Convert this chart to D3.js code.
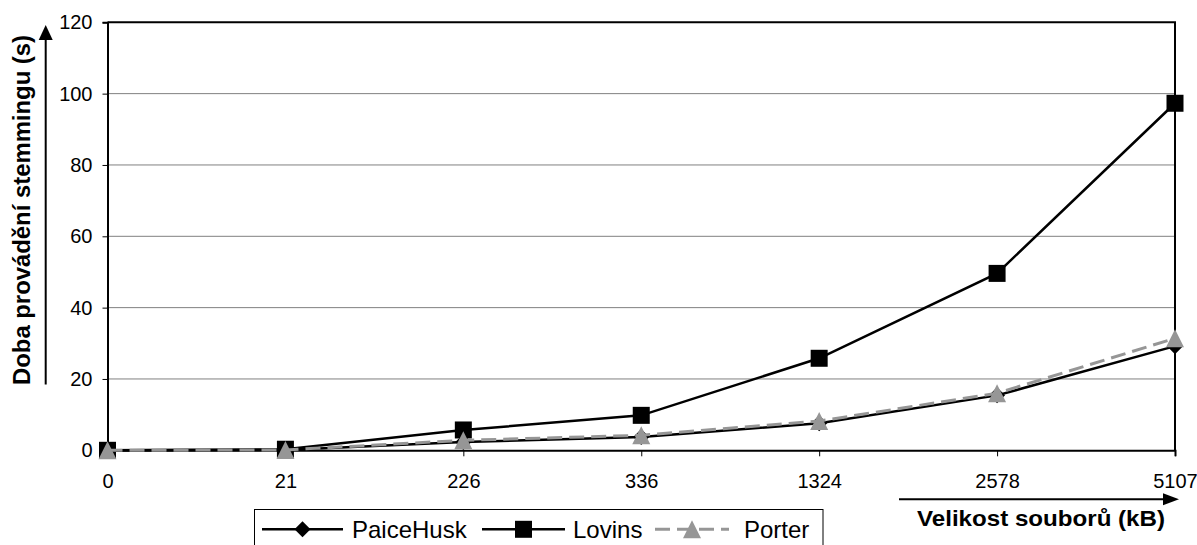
<!DOCTYPE html>
<html>
<head>
<meta charset="utf-8">
<script src="https://cdn.jsdelivr.net/npm/d3@7/dist/d3.min.js"></script>
<style>
  html, body { margin: 0; padding: 0; background: #fff; }
  svg { display: block; font-family: "Liberation Sans", Arial, sans-serif; }
</style>
</head>
<body>
<svg id="chart" width="1197" height="545"></svg>
<script>
// File sizes (kB) on the x axis
const categories = ["0", "21", "226", "336", "1324", "2578", "5107"];
// Stemming time (s) per algorithm
const paiceHusk = [0, 0.1, 2.3, 3.7, 7.6, 15.4, 29.2];
const lovins    = [0, 0.3, 5.7, 9.8, 25.8, 49.6, 97.3];
const porter    = [0, 0.1, 2.8, 4.2, 8.2, 16.0, 31.4];
const yTicks = [0, 20, 40, 60, 80, 100, 120];
const seriesNames = ["PaiceHusk", "Lovins", "Porter"];

const svg = d3.select("#chart");
const plotLeft = 107.5, plotRight = 1175, plotTop = 22.3, plotBottom = 450.3;

const x = d3.scalePoint().domain(categories).range([plotLeft, plotRight]);
const y = d3.scaleLinear().domain([0, 120]).range([plotBottom, plotTop]);

// gridlines
svg.append("g")
  .selectAll("line")
  .data(yTicks.filter(d => d > 0 && d < 120))
  .join("line")
  .attr("x1", plotLeft).attr("x2", plotRight)
  .attr("y1", d => y(d)).attr("y2", d => y(d))
  .attr("stroke", "#808080").attr("stroke-width", 1);

// frame: top and right edges
svg.append("path")
  .attr("d", `M${plotLeft},${y(120)}H${plotRight}V${plotBottom}`)
  .attr("fill", "none").attr("stroke", "#000").attr("stroke-width", 2);

// y axis
const yAxis = svg.append("g")
  .attr("transform", `translate(${plotLeft},0)`)
  .call(d3.axisLeft(y).tickValues(yTicks).tickSize(5).tickPadding(10));
yAxis.select(".domain").attr("stroke", "#000").attr("stroke-width", 2);
yAxis.selectAll(".tick line").attr("stroke", "#000").attr("stroke-width", 1);
yAxis.selectAll(".tick text")
  .attr("font-family", "Liberation Sans, Arial, sans-serif")
  .attr("font-size", 20).attr("fill", "#000");

// x axis
const xAxis = svg.append("g")
  .attr("transform", `translate(0,${plotBottom})`)
  .call(d3.axisBottom(x).tickSize(6).tickPadding(18));
xAxis.select(".domain").attr("stroke", "#000").attr("stroke-width", 2);
xAxis.selectAll(".tick line").attr("stroke", "#000").attr("stroke-width", 1);
xAxis.selectAll(".tick text")
  .attr("font-family", "Liberation Sans, Arial, sans-serif")
  .attr("font-size", 20).attr("fill", "#000");

// marker shapes
const markerPath = {
  diamond: s => `M0,${-s}L${s},0L0,${s}L${-s},0Z`,
  square: s => `M${-s},${-s}H${s}V${s}H${-s}Z`,
  triangle: s => `M0,${-s}L${s},${s}H${-s}Z`
};

const series = [
  { name: seriesNames[0], values: paiceHusk, color: "#000", width: 2.5, dash: null, marker: "diamond", size: 8, fill: "#000" },
  { name: seriesNames[1], values: lovins, color: "#000", width: 2.5, dash: null, marker: "square", size: 8.5, fill: "#000" },
  { name: seriesNames[2], values: porter, color: "#969696", width: 3, dash: "15,7", marker: "triangle", size: 9, fill: "#969696" }
];

const line = d3.line().x((d, i) => x(categories[i])).y(d => y(d));

series.forEach(s => {
  const g = svg.append("g");
  g.append("path")
    .attr("d", line(s.values))
    .attr("fill", "none")
    .attr("stroke", s.color)
    .attr("stroke-width", s.width)
    .attr("stroke-dasharray", s.dash);
  g.selectAll("path.m")
    .data(s.values)
    .join("path")
    .attr("class", "m")
    .attr("transform", (d, i) => `translate(${x(categories[i])},${y(d)})`)
    .attr("d", markerPath[s.marker](s.size))
    .attr("fill", s.fill);
});

// y axis title with arrow
svg.append("line")
  .attr("x1", 45.7).attr("x2", 45.7).attr("y1", 384.5).attr("y2", 38)
  .attr("stroke", "#000").attr("stroke-width", 2);
svg.append("path")
  .attr("d", "M45.7,25L52.7,40H38.7Z").attr("fill", "#000");
svg.append("text")
  .attr("transform", "translate(30,210) rotate(-90)")
  .attr("text-anchor", "middle")
  .attr("font-size", 23).attr("font-weight", "bold")
  .attr("textLength", 350).attr("lengthAdjust", "spacingAndGlyphs")
  .text("Doba provádění stemmingu (s)");

// x axis title with arrow
svg.append("line")
  .attr("x1", 899).attr("x2", 1165).attr("y1", 499.3).attr("y2", 499.3)
  .attr("stroke", "#000").attr("stroke-width", 2);
svg.append("path")
  .attr("d", "M1179,499.3L1163,493.3V505.3Z").attr("fill", "#000");
svg.append("text")
  .attr("x", 1041).attr("y", 525.5)
  .attr("text-anchor", "middle")
  .attr("font-size", 22).attr("font-weight", "bold")
  .attr("textLength", 248).attr("lengthAdjust", "spacingAndGlyphs")
  .text("Velikost souborů (kB)");

// legend
const legend = svg.append("g");
legend.append("rect")
  .attr("x", 254.5).attr("y", 509.5).attr("width", 568.5).attr("height", 60)
  .attr("fill", "#fff").attr("stroke", "#000").attr("stroke-width", 1);
const legendItems = [
  { s: series[0], x1: 262, x2: 343, tx: 352 },
  { s: series[1], x1: 482, x2: 565, tx: 573 },
  { s: series[2], x1: 655, x2: 729, tx: 744 }
];
const ly = 529.3;
legendItems.forEach(it => {
  legend.append("line")
    .attr("x1", it.x1).attr("x2", it.x2).attr("y1", ly).attr("y2", ly)
    .attr("stroke", it.s.color).attr("stroke-width", it.s.width)
    .attr("stroke-dasharray", it.s.dash);
  legend.append("path")
    .attr("transform", `translate(${(it.x1 + it.x2) / 2},${ly})`)
    .attr("d", markerPath[it.s.marker](it.s.size))
    .attr("fill", it.s.fill);
  legend.append("text")
    .attr("x", it.tx).attr("y", 538.3)
    .attr("font-size", 24)
    .text(it.s.name);
});
</script>
</body>
</html>
